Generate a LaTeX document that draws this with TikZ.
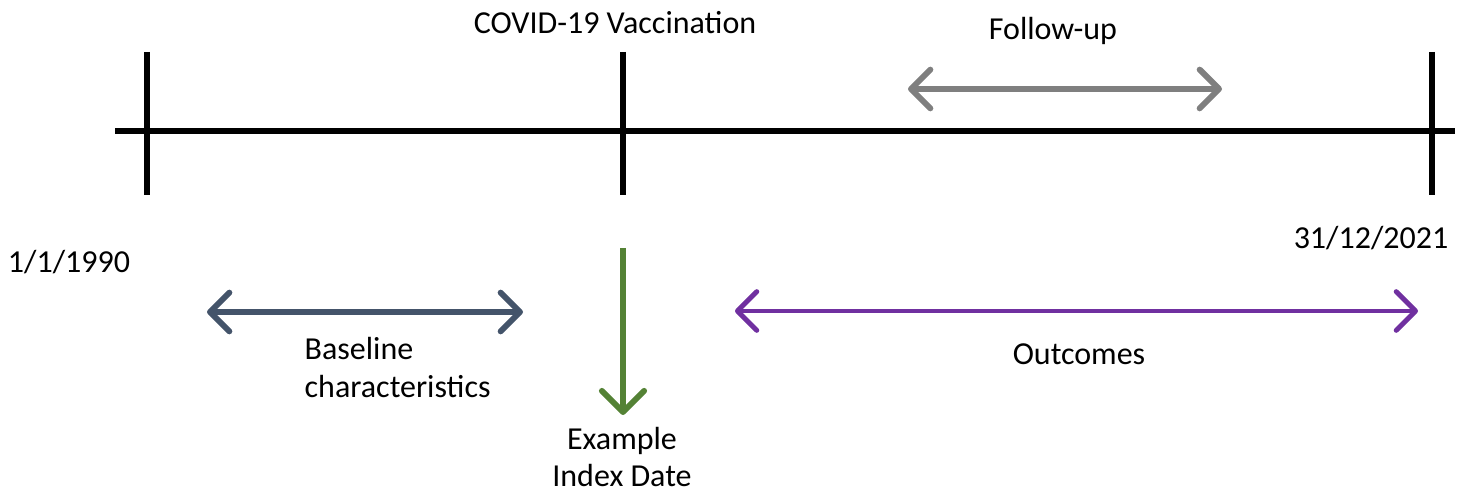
\documentclass[tikz,border=0pt]{standalone}
\usepackage{fontspec}
\setmainfont{Carlito}
\usetikzlibrary{arrows.meta}
\definecolor{fugray}{RGB}{127,127,127}
\definecolor{baseblue}{RGB}{68,84,106}
\definecolor{idxgreen}{RGB}{84,130,53}
\definecolor{outpurple}{RGB}{112,48,160}
\begin{document}
\begin{tikzpicture}[x=0.01cm,y=-0.01cm,
  axis/.style={line width=1.45pt,black},
  tip/.style={Straight Barb[length=5.5pt,width=11pt,round,line width=1.7pt]},
  span/.style={line width=1.7pt,line cap=round,{Straight Barb[length=5.5pt,width=11pt,round,line width=1.7pt]}-{Straight Barb[length=5.5pt,width=11pt,round,line width=1.7pt]}},
  lbl/.style={font=\fontsize{9.1}{10.6}\selectfont,inner sep=0pt,align=center}]
\useasboundingbox (0,0) rectangle (1469,491);
% axis
\coordinate (axL) at (115,131);
\coordinate (axR) at (1455,131);
\draw[axis] (axL) -- (axR);
\coordinate (t1a) at (147,52);  \coordinate (t1b) at (147,195);
\coordinate (t2a) at (623,52);  \coordinate (t2b) at (623,195);
\coordinate (t3a) at (1432,52); \coordinate (t3b) at (1432,195);
\draw[axis] (t1a) -- (t1b);
\draw[axis] (t2a) -- (t2b);
\draw[axis] (t3a) -- (t3b);
% labels
\node[lbl] (cv) at (615,23) {COVID-19 Vaccination};
\node[lbl] (fu) at (1053,31) {Follow-up};
\node[lbl] (d1) at (69,262) {1/1/1990};
\node[lbl] (d2) at (1371,238) {31/12/2021};
\node[lbl,align=left,anchor=north west] (bl) at (304,337) {Baseline\\characteristics};
\node[lbl] (ex) at (622,457) {Example\\Index Date};
\node[lbl] (oc) at (1079,354) {Outcomes};
% arrows
\coordinate (fuL) at (908,89); \coordinate (fuR) at (1222,89);
\draw[span,fugray] (fuL) -- (fuR);
\coordinate (blL) at (207,312); \coordinate (blR) at (523,312);
\draw[span,baseblue] (blL) -- (blR);
\coordinate (ocL) at (735,311); \coordinate (ocR) at (1418,311);
\draw[outpurple,line width=1.4pt,line cap=round,{Straight Barb[length=5.5pt,width=11pt,round,line width=1.4pt]}-{Straight Barb[length=5.5pt,width=11pt,round,line width=1.4pt]}] (ocL) -- (ocR);
\coordinate (gTop) at (623,248); \coordinate (gBot) at (623,415);
\draw[line width=1.7pt,idxgreen,-{Straight Barb[length=6pt,width=12pt,round,line width=1.7pt]}] (gTop) -- (gBot);
\end{tikzpicture}
\end{document}
